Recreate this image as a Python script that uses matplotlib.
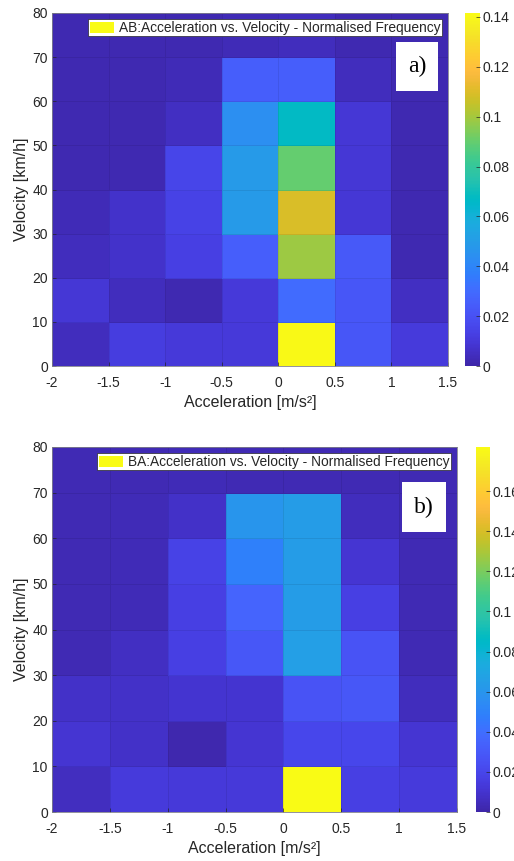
import numpy as np
import matplotlib
matplotlib.use("Agg")
import matplotlib.pyplot as plt
from matplotlib.colors import LinearSegmentedColormap
from matplotlib.patches import Patch

plt.rcParams['font.family'] = ['Liberation Sans', 'DejaVu Sans']

# ---- data ----
acc_edges = [-2, -1.5, -1, -0.5, 0, 0.5, 1, 1.5]
vel_edges = [0, 10, 20, 30, 40, 50, 60, 70, 80]
x_ticks = [-2, -1.5, -1, -0.5, 0, 0.5, 1, 1.5]
y_ticks = [0, 10, 20, 30, 40, 50, 60, 70, 80]

# rows: velocity bins 0-10 ... 70-80 ; columns: acceleration bins -2..1.5
ab_freq = [
    [0.004, 0.012, 0.010, 0.010, 0.141, 0.022, 0.011],
    [0.009, 0.004, 0.002, 0.010, 0.030, 0.022, 0.005],
    [0.004, 0.007, 0.013, 0.025, 0.099, 0.023, 0.002],
    [0.003, 0.007, 0.014, 0.049, 0.109, 0.009, 0.002],
    [0.002, 0.002, 0.015, 0.049, 0.090, 0.009, 0.002],
    [0.002, 0.002, 0.005, 0.044, 0.067, 0.009, 0.002],
    [0.002, 0.002, 0.003, 0.025, 0.025, 0.004, 0.002],
    [0.002, 0.002, 0.002, 0.003, 0.004, 0.002, 0.002],
]
ba_freq = [
    [0.006, 0.014, 0.013, 0.013, 0.182, 0.017, 0.014],
    [0.011, 0.008, 0.002, 0.011, 0.020, 0.020, 0.011],
    [0.008, 0.008, 0.010, 0.010, 0.027, 0.029, 0.005],
    [0.003, 0.007, 0.017, 0.029, 0.066, 0.027, 0.003],
    [0.003, 0.004, 0.017, 0.035, 0.064, 0.017, 0.003],
    [0.003, 0.004, 0.018, 0.049, 0.064, 0.011, 0.003],
    [0.003, 0.004, 0.008, 0.060, 0.064, 0.005, 0.003],
    [0.003, 0.003, 0.004, 0.003, 0.003, 0.003, 0.003],
]
ab_clim = (0, 0.1416)
ba_clim = (0, 0.182)
ab_cticks = [0, 0.02, 0.04, 0.06, 0.08, 0.1, 0.12, 0.14]
ba_cticks = [0, 0.02, 0.04, 0.06, 0.08, 0.1, 0.12, 0.14, 0.16]
ab_label = "AB:Acceleration vs. Velocity - Normalised Frequency"
ba_label = "BA:Acceleration vs. Velocity - Normalised Frequency"

# ---- parula colormap ----
_parula = [
[0.2422,0.1504,0.6603],[0.2504,0.1650,0.7076],[0.2578,0.1818,0.7511],[0.2647,0.1978,0.7952],
[0.2706,0.2147,0.8364],[0.2751,0.2342,0.8710],[0.2783,0.2559,0.8991],[0.2803,0.2782,0.9221],
[0.2813,0.3006,0.9414],[0.2810,0.3228,0.9579],[0.2795,0.3447,0.9717],[0.2760,0.3667,0.9829],
[0.2699,0.3892,0.9906],[0.2602,0.4123,0.9952],[0.2440,0.4358,0.9988],[0.2206,0.4603,0.9973],
[0.1963,0.4847,0.9892],[0.1834,0.5074,0.9798],[0.1786,0.5289,0.9682],[0.1764,0.5499,0.9520],
[0.1687,0.5703,0.9359],[0.1540,0.5902,0.9218],[0.1460,0.6091,0.9079],[0.1380,0.6276,0.8973],
[0.1248,0.6459,0.8883],[0.1113,0.6635,0.8763],[0.0952,0.6798,0.8598],[0.0689,0.6948,0.8394],
[0.0297,0.7082,0.8163],[0.0036,0.7203,0.7917],[0.0067,0.7312,0.7660],[0.0433,0.7411,0.7394],
[0.0964,0.7500,0.7120],[0.1408,0.7584,0.6842],[0.1717,0.7670,0.6554],[0.1938,0.7758,0.6251],
[0.2161,0.7843,0.5923],[0.2470,0.7918,0.5567],[0.2906,0.7973,0.5188],[0.3406,0.8008,0.4789],
[0.3909,0.8029,0.4354],[0.4456,0.8024,0.3909],[0.5044,0.7993,0.3480],[0.5616,0.7942,0.3045],
[0.6174,0.7876,0.2612],[0.6720,0.7793,0.2227],[0.7242,0.7698,0.1910],[0.7738,0.7598,0.1646],
[0.8203,0.7498,0.1535],[0.8634,0.7406,0.1596],[0.9035,0.7330,0.1774],[0.9393,0.7288,0.2100],
[0.9728,0.7298,0.2394],[0.9956,0.7434,0.2371],[0.9970,0.7659,0.2199],[0.9952,0.7893,0.2028],
[0.9892,0.8136,0.1885],[0.9786,0.8386,0.1766],[0.9676,0.8639,0.1643],[0.9610,0.8890,0.1537],
[0.9597,0.9135,0.1423],[0.9628,0.9373,0.1265],[0.9691,0.9606,0.1064],[0.9769,0.9839,0.0805]]
parula = LinearSegmentedColormap.from_list("parula", _parula, N=256)

W, H = 514, 861
fig = plt.figure(figsize=(W / 100, H / 100), dpi=100)

tc = (0.15, 0.15, 0.15)

def fr(l, t, r, b):
    return [l / W, 1 - b / H, (r - l) / W, (b - t) / H]

panels = [
    (ab_freq, ab_clim, ab_cticks, ab_label, "a)", fr(52, 13, 448, 366), fr(465, 13, 480, 366), (396, 42, 438, 91)),
    (ba_freq, ba_clim, ba_cticks, ba_label, "b)", fr(52, 447, 457, 812), fr(476, 447, 490, 812), (402, 482, 446, 532)),
]

for data, clim, cticks, label, tag, axr, cbr, tagbox in panels:
    ax = fig.add_axes(axr)
    mesh = ax.pcolormesh(acc_edges, vel_edges, np.array(data), cmap=parula,
                         vmin=clim[0], vmax=clim[1], edgecolor=(0, 0, 0, 0.08),
                         linewidth=0.6)
    ax.set_xlim(-2, 1.5)
    ax.set_ylim(0, 80)
    ax.set_xticks(x_ticks)
    ax.set_xticklabels([f"{v:g}" for v in x_ticks])
    ax.set_yticks(y_ticks)
    ax.tick_params(direction='in', length=3, labelsize=10, colors=tc, width=0.5, pad=3)
    ax.tick_params(axis='x', pad=7)
    for s in ax.spines.values():
        s.set_color((0.5, 0.5, 0.55))
        s.set_linewidth(0.6)
    ax.set_xlabel("Acceleration [m/s²]", fontsize=11.5, color=tc, labelpad=4)
    ax.set_ylabel("Velocity [km/h]", fontsize=11.5, color=tc, labelpad=2)

    leg = ax.legend(handles=[Patch(facecolor=_parula[-1], edgecolor='none', label=label)],
                    loc='upper right', fontsize=9.9, frameon=True, fancybox=False,
                    borderpad=0.12, handlelength=1.75, handleheight=0.85, handletextpad=0.35,
                    borderaxespad=0.45, labelcolor=tc)
    leg.get_frame().set_edgecolor((0.15, 0.15, 0.15))
    leg.get_frame().set_linewidth(0.5)
    leg.get_frame().set_alpha(1)

    # panel tag box
    l, t, r, b = tagbox
    fig.text((l + r) / 2 / W, 1 - (t + b) / 2 / H, tag, ha='center', va='center',
             fontsize=17, family=['Liberation Serif', 'DejaVu Serif'], color='black')
    fig.patches.append(plt.Rectangle((l / W, 1 - b / H), (r - l) / W, (b - t) / H,
                                     transform=fig.transFigure, facecolor='white',
                                     edgecolor='none', zorder=2.5))

    cax = fig.add_axes(cbr)
    cb = fig.colorbar(mesh, cax=cax, ticks=cticks)
    cb.ax.set_yticklabels([f"{v:g}" for v in cticks])
    cb.ax.tick_params(direction='in', length=3, labelsize=10, colors=tc, width=0.5, pad=2)
    cb.outline.set_linewidth(0)

fig.savefig("out.png", dpi=100)
